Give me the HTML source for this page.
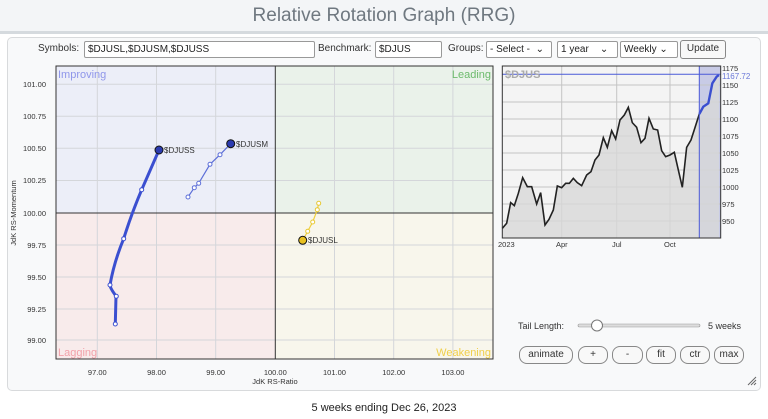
<!DOCTYPE html>
<html><head><meta charset="utf-8"><style>
body{margin:0;width:768px;height:419px;background:#fff;font-family:"Liberation Sans",sans-serif;position:relative;overflow:hidden}
.abs{position:absolute}
.top{left:0;top:0;width:768px;height:31px;background:#f3f5f7;border-bottom:3px solid #d5dade}
.title{left:0;width:768px;top:5px;text-align:center;font-size:19px;color:#6f7880;font-family:"Liberation Sans Narrow","Liberation Sans",sans-serif}
.panel{left:7px;top:37px;width:752px;height:352px;border:1px solid #d8dadc;border-radius:5px;background:#f8f9fa}
.lbl{font-size:10px;color:#333}
.inp{background:#fff;border:1px solid #999;border-radius:2px;height:15px;font-size:10px;line-height:15px;padding-left:3px;color:#222;box-sizing:content-box}
.btn{border:1px solid #888;border-radius:8px;background:#f8f8f8;font-size:10px;color:#333;text-align:center;height:16px;line-height:16px}
</style></head><body>
<div class="abs top"></div>
<div class="abs title">Relative Rotation Graph (RRG)</div>
<div class="abs panel"></div>
<div class="abs lbl" style="left:38px;top:43px">Symbols:</div>
<div class="abs inp" style="left:84px;top:41px;width:226px">$DJUSL,$DJUSM,$DJUSS</div>
<div class="abs lbl" style="left:318px;top:43px">Benchmark:</div>
<div class="abs inp" style="left:375px;top:41px;width:62px">$DJUS</div>
<div class="abs lbl" style="left:448px;top:43px">Groups:</div>
<div class="abs inp" style="left:486px;top:41px;width:61px">- Select -&nbsp; ⌄</div>
<div class="abs inp" style="left:557px;top:41px;width:56px">1 year&nbsp;&nbsp;&nbsp; ⌄</div>
<div class="abs inp" style="left:620px;top:41px;width:53px">Weekly ⌄</div>
<div class="abs btn" style="left:680px;top:40px;width:44px;border-radius:3px;height:17px">Update</div>

<svg class="abs" style="left:0;top:0" width="768" height="419">
<g font-family="Liberation Sans,sans-serif">
<rect x="56" y="66" width="219" height="147" fill="#eceef8"/>
<rect x="275" y="66" width="218" height="147" fill="#eaf2ea"/>
<rect x="56" y="213" width="219" height="146" fill="#f8ebeb"/>
<rect x="275" y="213" width="218" height="146" fill="#f8f6ec"/>
<g stroke="#d4d6da" stroke-width="1">
<line x1="97.3" y1="66" x2="97.3" y2="359"/><line x1="156.5" y1="66" x2="156.5" y2="359"/><line x1="215.7" y1="66" x2="215.7" y2="359"/><line x1="334.5" y1="66" x2="334.5" y2="359"/><line x1="393.7" y1="66" x2="393.7" y2="359"/><line x1="452.9" y1="66" x2="452.9" y2="359"/>
<line x1="56" y1="84.3" x2="493" y2="84.3"/><line x1="56" y1="116.3" x2="493" y2="116.3"/><line x1="56" y1="148.3" x2="493" y2="148.3"/><line x1="56" y1="180.5" x2="493" y2="180.5"/><line x1="56" y1="245" x2="493" y2="245"/><line x1="56" y1="277" x2="493" y2="277"/><line x1="56" y1="309" x2="493" y2="309"/><line x1="56" y1="340" x2="493" y2="340"/>
</g>
<line x1="275.3" y1="66" x2="275.3" y2="359" stroke="#333"/>
<line x1="56" y1="213" x2="493" y2="213" stroke="#333"/>
<rect x="56" y="66" width="437" height="293" fill="none" stroke="#333"/>
<text x="58" y="78" font-size="11" fill="#8f96ea">Improving</text>
<text x="491" y="78" font-size="11" fill="#6dbb6d" text-anchor="end">Leading</text>
<text x="58" y="356" font-size="11" fill="#f2a2aa">Lagging</text>
<text x="491" y="356" font-size="11" fill="#f0cf4a" text-anchor="end">Weakening</text>
<g font-size="7.5" fill="#333" text-anchor="end">
<text x="46" y="87">101.00</text><text x="46" y="119">100.75</text><text x="46" y="151">100.50</text><text x="46" y="183">100.25</text><text x="46" y="216">100.00</text><text x="46" y="248">99.75</text><text x="46" y="280">99.50</text><text x="46" y="312">99.25</text><text x="46" y="343">99.00</text>
</g>
<g font-size="7.5" fill="#333" text-anchor="middle">
<text x="97.3" y="375">97.00</text><text x="156.5" y="375">98.00</text><text x="215.7" y="375">99.00</text><text x="275.3" y="375">100.00</text><text x="334.5" y="375">101.00</text><text x="393.7" y="375">102.00</text><text x="452.9" y="375">103.00</text>
<text x="275" y="384">JdK RS-Ratio</text>
<text transform="translate(16,213) rotate(-90)">JdK RS-Momentum</text>
</g>
<path d="M115.3,324 L116,296 Q110,288 110,285 Q114,262 123.7,238.7 Q131,215 141.7,189.7 L159,150" fill="none" stroke="#3b4fd0" stroke-width="3"/>
<g fill="#fff" stroke="#3b4fd0" stroke-width="1"><circle cx="115.3" cy="324" r="2"/><circle cx="116.3" cy="296.3" r="2"/><circle cx="110" cy="285" r="2"/><circle cx="123.7" cy="238.7" r="2"/><circle cx="141.7" cy="189.7" r="2"/></g>
<circle cx="159" cy="150" r="4" fill="#2c3bb0" stroke="#111"/>
<text x="164" y="153" font-size="8" fill="#333">$DJUSS</text>
<polyline points="188,197 194.3,187.7 198.7,183.3 210,164.3 220,154.7 230.7,143.7" fill="none" stroke="#5d6fd8" stroke-width="1.2"/>
<g fill="#fff" stroke="#5d6fd8"><circle cx="188" cy="197" r="2"/><circle cx="194.3" cy="187.7" r="2"/><circle cx="198.7" cy="183.3" r="2"/><circle cx="210" cy="164.3" r="2"/><circle cx="220" cy="154.7" r="2"/></g>
<circle cx="230.7" cy="143.7" r="4" fill="#2c3bb0" stroke="#111"/>
<text x="236" y="147" font-size="8" fill="#333">$DJUSM</text>
<polyline points="318.7,203.3 317.3,209.7 312.7,222 307.7,231.3 302.7,240.3" fill="none" stroke="#f0d040" stroke-width="1.2"/>
<g fill="#fff" stroke="#e8c830"><circle cx="318.7" cy="203.3" r="2"/><circle cx="317.3" cy="209.7" r="2"/><circle cx="312.7" cy="222" r="2"/><circle cx="307.7" cy="231.3" r="2"/></g>
<circle cx="302.7" cy="240.3" r="4" fill="#e8c020" stroke="#111"/>
<text x="308" y="243" font-size="8" fill="#333">$DJUSL</text>

<rect x="502.3" y="66" width="218.4" height="172" fill="#f4f4f4"/>
<rect x="699.3" y="66" width="21.4" height="172" fill="#c8cbe6"/>
<g stroke="#c4c4c4">
<line x1="561.7" y1="66" x2="561.7" y2="238"/><line x1="616.7" y1="66" x2="616.7" y2="238"/><line x1="670" y1="66" x2="670" y2="238"/>
<line x1="502" y1="85" x2="721" y2="85"/><line x1="502" y1="102" x2="721" y2="102"/><line x1="502" y1="119" x2="721" y2="119"/><line x1="502" y1="136" x2="721" y2="136"/><line x1="502" y1="153" x2="721" y2="153"/><line x1="502" y1="170" x2="721" y2="170"/><line x1="502" y1="187" x2="721" y2="187"/><line x1="502" y1="204" x2="721" y2="204"/><line x1="502" y1="221" x2="721" y2="221"/>
</g>
<g transform="translate(495,60) scale(0.3333)">
<path d="M22,505 35,490 47,428 58,437 70,400 83,353 97,380 110,380 125,432 137,398 150,495 162,478 175,450 187,378 200,383 212,370 223,370 235,355 247,368 260,377 275,345 288,335 300,300 312,285 325,233 337,262 350,212 362,237 375,180 388,165 400,142 412,188 425,202 438,248 450,235 462,175 475,207 488,210 500,272 512,290 525,285 538,277 550,330 562,382 575,262 588,240 600,203 613,162 625,140 637,132 640,130 652,70 665,50 672,45 L672,535 L22,535Z" fill="#d8d8d8" fill-opacity="0.8"/>
<polyline points="22,505 35,490 47,428 58,437 70,400 83,353 97,380 110,380 125,432 137,398 150,495 162,478 175,450 187,378 200,383 212,370 223,370 235,355 247,368 260,377 275,345 288,335 300,300 312,285 325,233 337,262 350,212 362,237 375,180 388,165 400,142 412,188 425,202 438,248 450,235 462,175 475,207 488,210 500,272 512,290 525,285 538,277 550,330 562,382 575,262 588,240 600,203 613,162" fill="none" stroke="#222" stroke-width="1.6" vector-effect="non-scaling-stroke"/>
<polyline points="613,162 625,140 637,132 640,130 652,70 665,50 672,45" fill="none" stroke="#3b4fd0" stroke-width="2.4" vector-effect="non-scaling-stroke"/>
</g>
<line x1="699.3" y1="66" x2="699.3" y2="238" stroke="#4a5ad8"/>
<line x1="502.3" y1="74.3" x2="720.7" y2="74.3" stroke="#4a5ad8"/>
<rect x="502.3" y="66" width="218.4" height="172" fill="none" stroke="#333"/>
<text x="505" y="78" font-size="11" font-weight="bold" fill="#aaa">$DJUS</text>
<g font-size="7.5" fill="#333">
<text x="722" y="71">1175</text><text x="722" y="88">1150</text><text x="722" y="105">1125</text><text x="722" y="122">1100</text><text x="722" y="139">1075</text><text x="722" y="156">1050</text><text x="722" y="173">1025</text><text x="722" y="190">1000</text><text x="722" y="207">975</text><text x="722" y="224">950</text>
<text x="722" y="79" fill="#6a78d8" font-size="8">1167.72</text>
<text x="498" y="247">2023</text><text x="556" y="247">Apr</text><text x="612" y="247">Jul</text><text x="664" y="247">Oct</text>
</g>
<text x="518" y="329" font-size="9" fill="#333">Tail Length:</text>
<rect x="578" y="324" width="122" height="3" rx="1.5" fill="#ddd" stroke="#999" stroke-width="0.6"/>
<circle cx="597" cy="325.5" r="5.5" fill="#fff" stroke="#777"/>
<text x="708" y="329" font-size="9" fill="#333">5 weeks</text>
<path d="M748,385 L756,377 M751,385 L756,380 M754,385 L756,383" stroke="#666" stroke-width="1"/>
</g></svg>
<div class="abs btn" style="left:519px;top:346px;width:52px">animate</div>
<div class="abs btn" style="left:578px;top:346px;width:28px">+</div>
<div class="abs btn" style="left:612px;top:346px;width:29px">-</div>
<div class="abs btn" style="left:646px;top:346px;width:28px">fit</div>
<div class="abs btn" style="left:680px;top:346px;width:28px">ctr</div>
<div class="abs btn" style="left:714px;top:346px;width:28px">max</div>
<div class="abs" style="left:0;width:768px;top:402px;text-align:center;font-size:11px;color:#222">5 weeks ending Dec 26, 2023</div>
</body></html>
